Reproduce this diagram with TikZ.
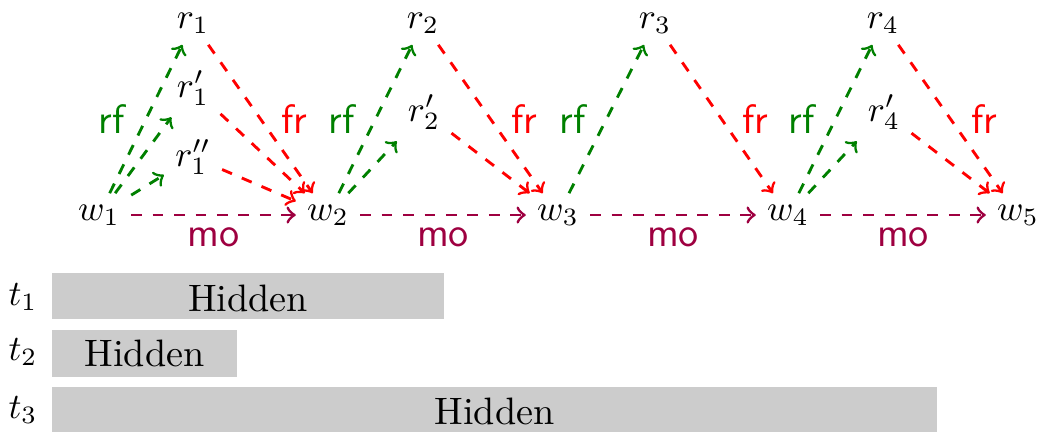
\documentclass[tikz,border=0pt]{standalone}
\definecolor{rfcol}{RGB}{0,128,0}
\definecolor{frcol}{RGB}{255,0,0}
\definecolor{mocol}{RGB}{158,0,64}
\definecolor{barcol}{RGB}{204,204,204}
\begin{document}
\begin{tikzpicture}[x=0.28pt,y=-0.28pt,
  ev/.style={inner sep=3pt},
  rfedge/.style={draw=rfcol,dashed,line width=0.8pt,->},
  fredge/.style={draw=frcol,dashed,line width=0.8pt,->},
  moedge/.style={draw=mocol,dashed,line width=0.8pt,->},
  lblfont/.style={font=\sffamily\fontsize{11.5pt}{14pt}\selectfont},
  rflbl/.style={lblfont,text=rfcol,inner sep=1pt},
  frlbl/.style={lblfont,text=frcol,inner sep=1pt},
  molbl/.style={lblfont,text=mocol,inner sep=2pt},
  hbar/.style={fill=barcol,draw=none},
  htext/.style={font=\fontsize{10.7pt}{13pt}\selectfont}]
\useasboundingbox (0,0) rectangle (1040,432);
% events
\node[ev] (w1) at (99,215) {$w_1$};
\node[ev] (w2) at (328,215) {$w_2$};
\node[ev] (w3) at (558,215) {$w_3$};
\node[ev] (w4) at (788,215) {$w_4$};
\node[ev] (w5) at (1018,215) {$w_5$};
\node[ev] (r1) at (193,23) {$r_1$};
\node[ev] (r1p) at (193,88) {$r_1'$};
\node[ev] (r1pp) at (193,157) {$r_1''$};
\node[ev] (r2) at (423,23) {$r_2$};
\node[ev] (r2p) at (424,112) {$r_2'$};
\node[ev] (r3) at (655,23) {$r_3$};
\node[ev] (r4) at (883,23) {$r_4$};
\node[ev] (r4p) at (884,112) {$r_4'$};
% mo
\draw[moedge] (w1) -- node[molbl,below=1pt] {mo} (w2);
\draw[moedge] (w2) -- node[molbl,below=1pt] {mo} (w3);
\draw[moedge] (w3) -- node[molbl,below=1pt] {mo} (w4);
\draw[moedge] (w4) -- node[molbl,below=1pt] {mo} (w5);
% rf
\draw[rfedge] (w1) -- node[rflbl,left=4.5pt] {rf} (r1);
\draw[rfedge] (w1) -- (r1p);
\draw[rfedge] (w1) -- (r1pp);
\draw[rfedge] (w2) -- node[rflbl,left=4.5pt] {rf} (r2);
\draw[rfedge] (w2) -- (r2p);
\draw[rfedge] (w3) -- node[rflbl,left=4.5pt] {rf} (r3);
\draw[rfedge] (w4) -- node[rflbl,left=4.5pt] {rf} (r4);
\draw[rfedge] (w4) -- (r4p);
% fr
\draw[fredge] (r1) -- node[frlbl,right=4.5pt] {fr} (w2);
\draw[fredge] (r1p) -- (w2);
\draw[fredge] (r1pp) -- (w2);
\draw[fredge] (r2) -- node[frlbl,right=4.5pt] {fr} (w3);
\draw[fredge] (r2p) -- (w3);
\draw[fredge] (r3) -- node[frlbl,right=4.5pt] {fr} (w4);
\draw[fredge] (r4) -- node[frlbl,right=4.5pt] {fr} (w5);
\draw[fredge] (r4p) -- (w5);
% threads
\node (t1) at (23,297) {$t_1$};
\node (t2) at (23,352) {$t_2$};
\node (t3) at (23,410) {$t_3$};
\path[hbar] (52,273) rectangle (444,319);
\path[hbar] (52,330) rectangle (237,377);
\path[hbar] (52,387) rectangle (937,432);
\node[htext] (h1) at (248,298) {Hidden};
\node[htext] (h2) at (144.5,353.5) {Hidden};
\node[htext] (h3) at (494.5,411) {Hidden};
\end{tikzpicture}
\end{document}
